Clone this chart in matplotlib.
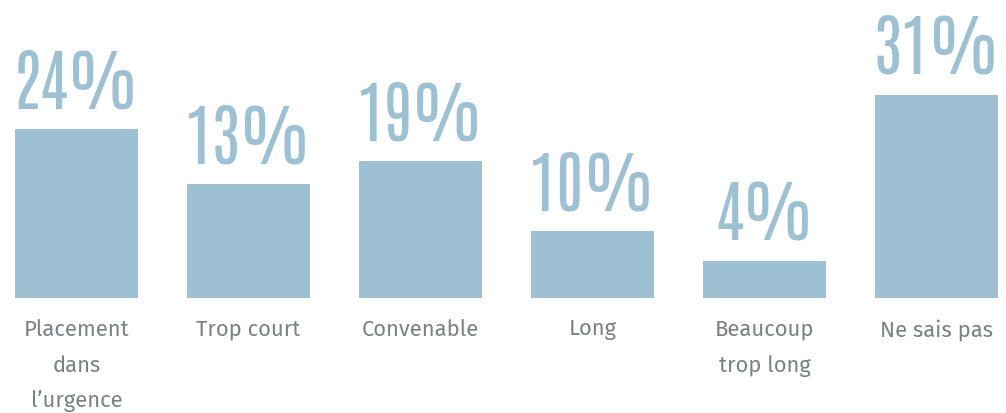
import matplotlib
matplotlib.use('Agg')
from matplotlib import pyplot as plt
from matplotlib.font_manager import FontProperties
from matplotlib.textpath import TextPath
import numpy as np

# Data
categories  = ['Placement\ndans\nl\u2019urgence', 'Trop court', 'Convenable',
               'Long', 'Beaucoup\ntrop long', 'Ne sais pas']
labels      = ['24%', '13%', '19%', '10%', '4%', '31%']
bar_heights = [25.8, 17.4, 20.9, 10.2, 5.6, 31.0]

bar_color  = '#9ec0d3'
text_color = '#7d7f82'

W, H = 1006, 413
dpi = 100
fig = plt.figure(figsize=(W / dpi, H / dpi), dpi=dpi)

# axes in pixel terms: baseline at 298px from top
px_per_unit = 172.0
bar_w = 0.715
x = np.arange(len(categories))
x_lo = -bar_w / 2
x_hi = x[-1] + bar_w / 2
ax_left = 15
ax_width = (x_hi - x_lo) * px_per_unit
ax_bottom = H - 298
ax = fig.add_axes([ax_left / W, ax_bottom / H, ax_width / W, 298 / H])
ax.set_xlim(x_lo, x_hi)
ax.set_ylim(0, 298 / 6.55)
ax.axis('off')

ax.bar(x, bar_heights, width=bar_w, color=bar_color, linewidth=0)

px = 72.0 / dpi  # points per pixel

# size the big numbers so the digit height is ~58px
num_font = FontProperties(family='Antonio', weight='semibold')
ext = TextPath((0, 0), '24', size=100, prop=num_font).get_extents()
num_size_px = 100 * 58.0 / ext.height

for xi, h, lab in zip(x, bar_heights, labels):
    ax.annotate(lab, (xi, h), xytext=(0, 21 * px), textcoords='offset points',
                ha='center', va='baseline', color=bar_color,
                fontproperties=num_font.copy(), fontsize=num_size_px * px)

for xi, cat in zip(x, categories):
    ax.annotate(cat, (xi, 0), xytext=(0, -21 * px), textcoords='offset points',
                ha='center', va='top', color=text_color,
                fontfamily='Fira Sans', fontsize=22 * px, linespacing=1.84,
                annotation_clip=False)

plt.savefig('out.png', dpi=dpi)
